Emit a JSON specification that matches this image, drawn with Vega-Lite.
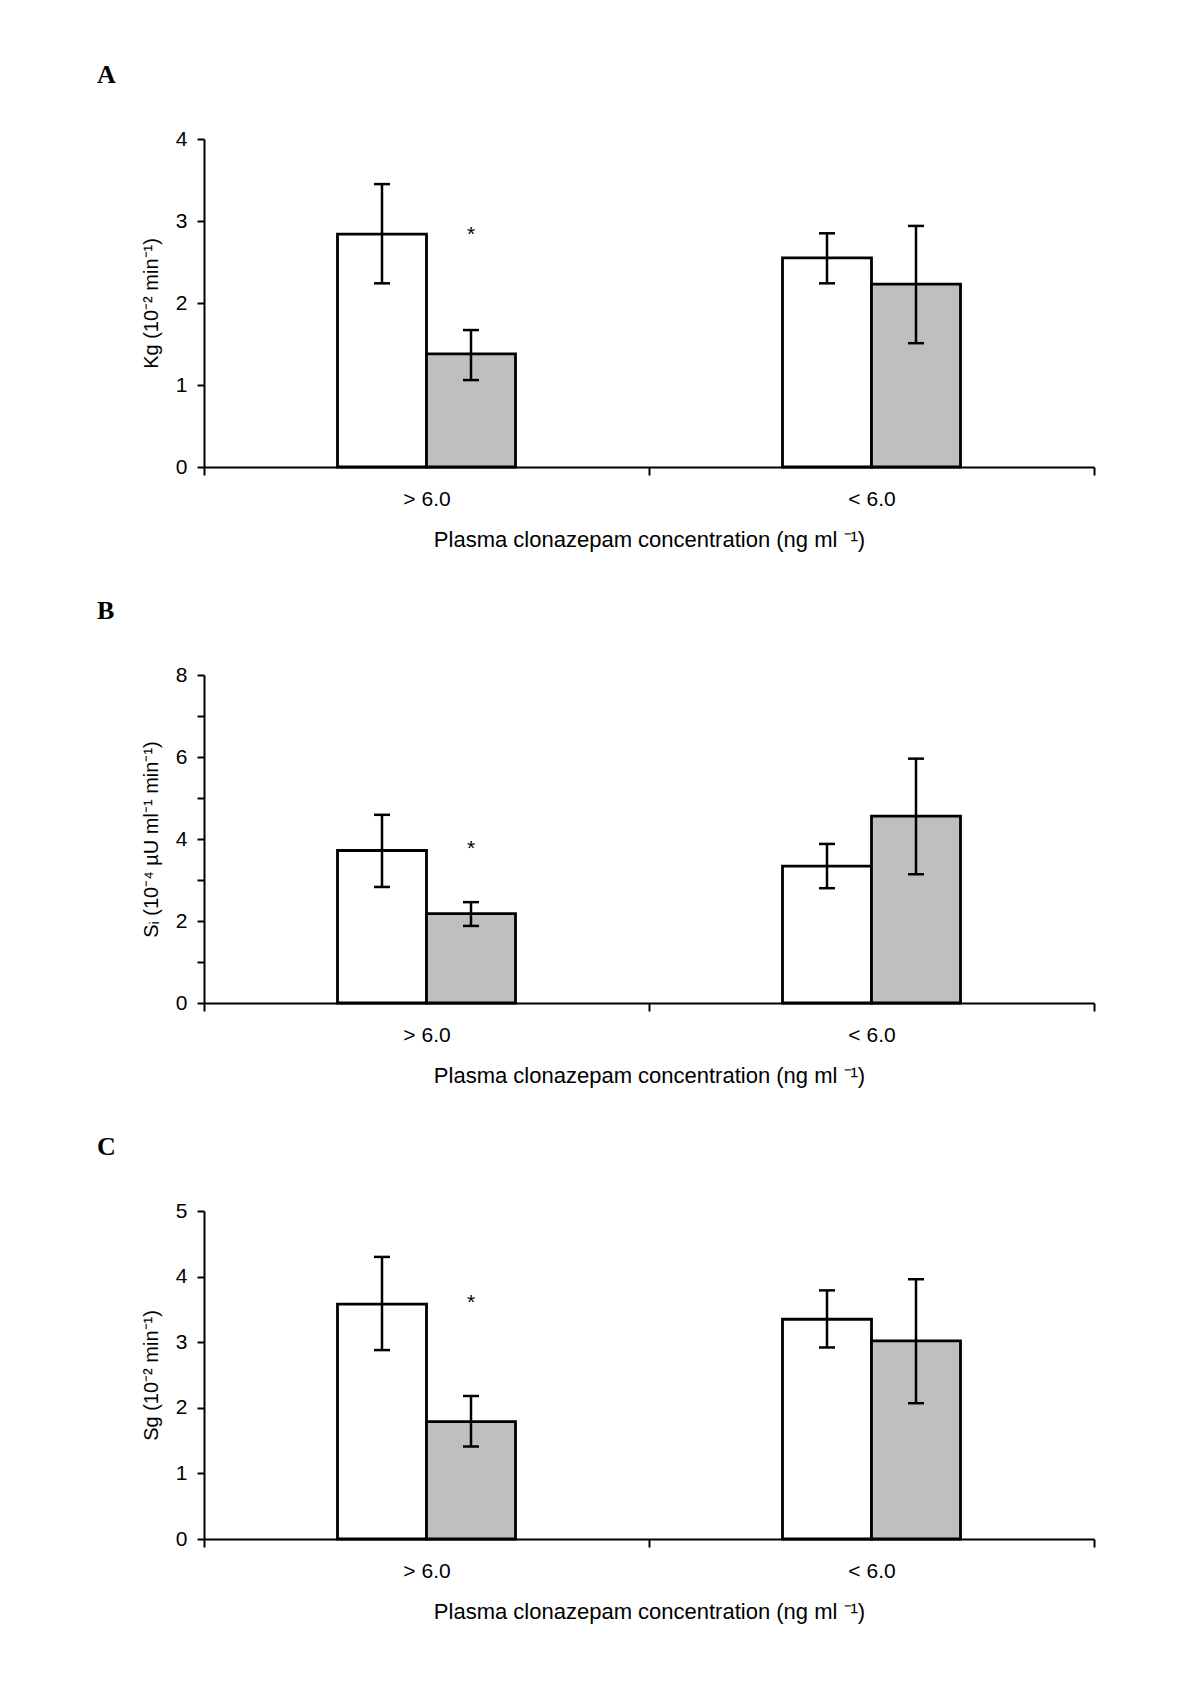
{
  "$schema": "https://vega.github.io/schema/vega-lite/v6.json",
  "background": "white",
  "padding": {"left": 97, "top": 62, "right": 10, "bottom": 10},
  "config": {
    "view": {"stroke": null},
    "font": "Liberation Sans",
    "axis": {"domainColor": "black", "domainWidth": 2, "tickColor": "black", "tickWidth": 2, "labelColor": "black", "titleColor": "black", "labelFont": "Liberation Sans", "titleFont": "Liberation Sans", "labelFontSize": 21, "titleFontSize": 21, "titleFontWeight": "normal", "grid": false},
    "axisX": {"tickBand": "extent", "tickSize": 8, "labelPadding": 13, "titlePadding": 20, "labelAngle": 0, "titleFontSize": 22},
    "axisY": {"tickSize": 7, "labelPadding": 10, "titlePadding": 14, "format": "d", "titleFontSize": 20},
    "title": {"font": "Liberation Serif", "fontSize": 26, "fontWeight": "bold", "anchor": "start", "frame": "group", "dx": -107, "offset": 40, "color": "black"},
    "concat": {"spacing": 48}
  },
  "vconcat": [
    {
      "width": 890, "height": 328,
      "title": {"text": "A"},
      "data": {"values": [
        {"conc": "> 6.0", "group": "G1", "mean": 2.84, "lo": 2.24, "hi": 3.45, "star": null},
        {"conc": "> 6.0", "group": "G2", "mean": 1.38, "lo": 1.06, "hi": 1.67, "star": 2.87},
        {"conc": "< 6.0", "group": "G1", "mean": 2.55, "lo": 2.24, "hi": 2.85, "star": null},
        {"conc": "< 6.0", "group": "G2", "mean": 2.23, "lo": 1.51, "hi": 2.94, "star": null}
      ]},
      "encoding": {
        "x": {"field": "conc", "type": "nominal", "sort": ["> 6.0", "< 6.0"], "scale": {"paddingInner": 0, "paddingOuter": 0}, "axis": {"title": "Plasma clonazepam concentration (ng ml ⁻¹)"}},
        "xOffset": {"field": "group", "type": "nominal", "scale": {"domain": ["L", "G1", "G2", "R"], "paddingInner": 0, "paddingOuter": 0.5}}
      },
      "layer": [
        {"mark": {"type": "bar", "stroke": "black", "strokeWidth": 2.8},
         "encoding": {
           "y": {"field": "mean", "type": "quantitative", "title": "Kg (10⁻² min⁻¹)", "scale": {"domain": [0, 4], "nice": false}, "axis": {"values": [0, 1, 2, 3, 4]}},
           "fill": {"field": "group", "type": "nominal", "scale": {"domain": ["G1", "G2"], "range": ["white", "#bfbfbf"]}, "legend": null}
         }},
        {"mark": {"type": "rule", "strokeWidth": 2.5, "color": "black"},
         "encoding": {"y": {"field": "lo", "type": "quantitative", "title": "Kg (10⁻² min⁻¹)"}, "y2": {"field": "hi"}}},
        {"mark": {"type": "tick", "thickness": 2.5, "size": 16, "color": "black", "opacity": 1},
         "encoding": {"y": {"field": "lo", "type": "quantitative", "title": "Kg (10⁻² min⁻¹)"}}},
        {"mark": {"type": "tick", "thickness": 2.5, "size": 16, "color": "black", "opacity": 1},
         "encoding": {"y": {"field": "hi", "type": "quantitative", "title": "Kg (10⁻² min⁻¹)"}}},
        {"transform": [{"filter": "datum.star != null"}],
         "mark": {"type": "text", "text": "*", "fontSize": 21, "baseline": "middle", "dy": 3, "color": "black"},
         "encoding": {"y": {"field": "star", "type": "quantitative", "title": "Kg (10⁻² min⁻¹)"}}}
      ]
    },
    {
      "width": 890, "height": 328,
      "title": {"text": "B"},
      "data": {"values": [
        {"conc": "> 6.0", "group": "G1", "mean": 3.72, "lo": 2.83, "hi": 4.59, "star": null},
        {"conc": "> 6.0", "group": "G2", "mean": 2.18, "lo": 1.88, "hi": 2.46, "star": 3.84},
        {"conc": "< 6.0", "group": "G1", "mean": 3.34, "lo": 2.80, "hi": 3.88, "star": null},
        {"conc": "< 6.0", "group": "G2", "mean": 4.56, "lo": 3.14, "hi": 5.96, "star": null}
      ]},
      "encoding": {
        "x": {"field": "conc", "type": "nominal", "sort": ["> 6.0", "< 6.0"], "scale": {"paddingInner": 0, "paddingOuter": 0}, "axis": {"title": "Plasma clonazepam concentration (ng ml ⁻¹)"}},
        "xOffset": {"field": "group", "type": "nominal", "scale": {"domain": ["L", "G1", "G2", "R"], "paddingInner": 0, "paddingOuter": 0.5}}
      },
      "layer": [
        {"mark": {"type": "bar", "stroke": "black", "strokeWidth": 2.8},
         "encoding": {
           "y": {"field": "mean", "type": "quantitative", "title": "Sᵢ (10⁻⁴ µU ml⁻¹ min⁻¹)", "scale": {"domain": [0, 8], "nice": false}, "axis": {"values": [0, 1, 2, 3, 4, 5, 6, 7, 8], "labelExpr": "datum.value % 2 == 0 ? datum.label : ''"}},
           "fill": {"field": "group", "type": "nominal", "scale": {"domain": ["G1", "G2"], "range": ["white", "#bfbfbf"]}, "legend": null}
         }},
        {"mark": {"type": "rule", "strokeWidth": 2.5, "color": "black"},
         "encoding": {"y": {"field": "lo", "type": "quantitative", "title": "Sᵢ (10⁻⁴ µU ml⁻¹ min⁻¹)"}, "y2": {"field": "hi"}}},
        {"mark": {"type": "tick", "thickness": 2.5, "size": 16, "color": "black", "opacity": 1},
         "encoding": {"y": {"field": "lo", "type": "quantitative", "title": "Sᵢ (10⁻⁴ µU ml⁻¹ min⁻¹)"}}},
        {"mark": {"type": "tick", "thickness": 2.5, "size": 16, "color": "black", "opacity": 1},
         "encoding": {"y": {"field": "hi", "type": "quantitative", "title": "Sᵢ (10⁻⁴ µU ml⁻¹ min⁻¹)"}}},
        {"transform": [{"filter": "datum.star != null"}],
         "mark": {"type": "text", "text": "*", "fontSize": 21, "baseline": "middle", "dy": 3, "color": "black"},
         "encoding": {"y": {"field": "star", "type": "quantitative", "title": "Sᵢ (10⁻⁴ µU ml⁻¹ min⁻¹)"}}}
      ]
    },
    {
      "width": 890, "height": 328,
      "title": {"text": "C"},
      "data": {"values": [
        {"conc": "> 6.0", "group": "G1", "mean": 3.58, "lo": 2.88, "hi": 4.30, "star": null},
        {"conc": "> 6.0", "group": "G2", "mean": 1.79, "lo": 1.41, "hi": 2.18, "star": 3.64},
        {"conc": "< 6.0", "group": "G1", "mean": 3.35, "lo": 2.92, "hi": 3.79, "star": null},
        {"conc": "< 6.0", "group": "G2", "mean": 3.02, "lo": 2.07, "hi": 3.96, "star": null}
      ]},
      "encoding": {
        "x": {"field": "conc", "type": "nominal", "sort": ["> 6.0", "< 6.0"], "scale": {"paddingInner": 0, "paddingOuter": 0}, "axis": {"title": "Plasma clonazepam concentration (ng ml ⁻¹)"}},
        "xOffset": {"field": "group", "type": "nominal", "scale": {"domain": ["L", "G1", "G2", "R"], "paddingInner": 0, "paddingOuter": 0.5}}
      },
      "layer": [
        {"mark": {"type": "bar", "stroke": "black", "strokeWidth": 2.8},
         "encoding": {
           "y": {"field": "mean", "type": "quantitative", "title": "Sg (10⁻² min⁻¹)", "scale": {"domain": [0, 5], "nice": false}, "axis": {"values": [0, 1, 2, 3, 4, 5]}},
           "fill": {"field": "group", "type": "nominal", "scale": {"domain": ["G1", "G2"], "range": ["white", "#bfbfbf"]}, "legend": null}
         }},
        {"mark": {"type": "rule", "strokeWidth": 2.5, "color": "black"},
         "encoding": {"y": {"field": "lo", "type": "quantitative", "title": "Sg (10⁻² min⁻¹)"}, "y2": {"field": "hi"}}},
        {"mark": {"type": "tick", "thickness": 2.5, "size": 16, "color": "black", "opacity": 1},
         "encoding": {"y": {"field": "lo", "type": "quantitative", "title": "Sg (10⁻² min⁻¹)"}}},
        {"mark": {"type": "tick", "thickness": 2.5, "size": 16, "color": "black", "opacity": 1},
         "encoding": {"y": {"field": "hi", "type": "quantitative", "title": "Sg (10⁻² min⁻¹)"}}},
        {"transform": [{"filter": "datum.star != null"}],
         "mark": {"type": "text", "text": "*", "fontSize": 21, "baseline": "middle", "dy": 3, "color": "black"},
         "encoding": {"y": {"field": "star", "type": "quantitative", "title": "Sg (10⁻² min⁻¹)"}}}
      ]
    }
  ]
}
